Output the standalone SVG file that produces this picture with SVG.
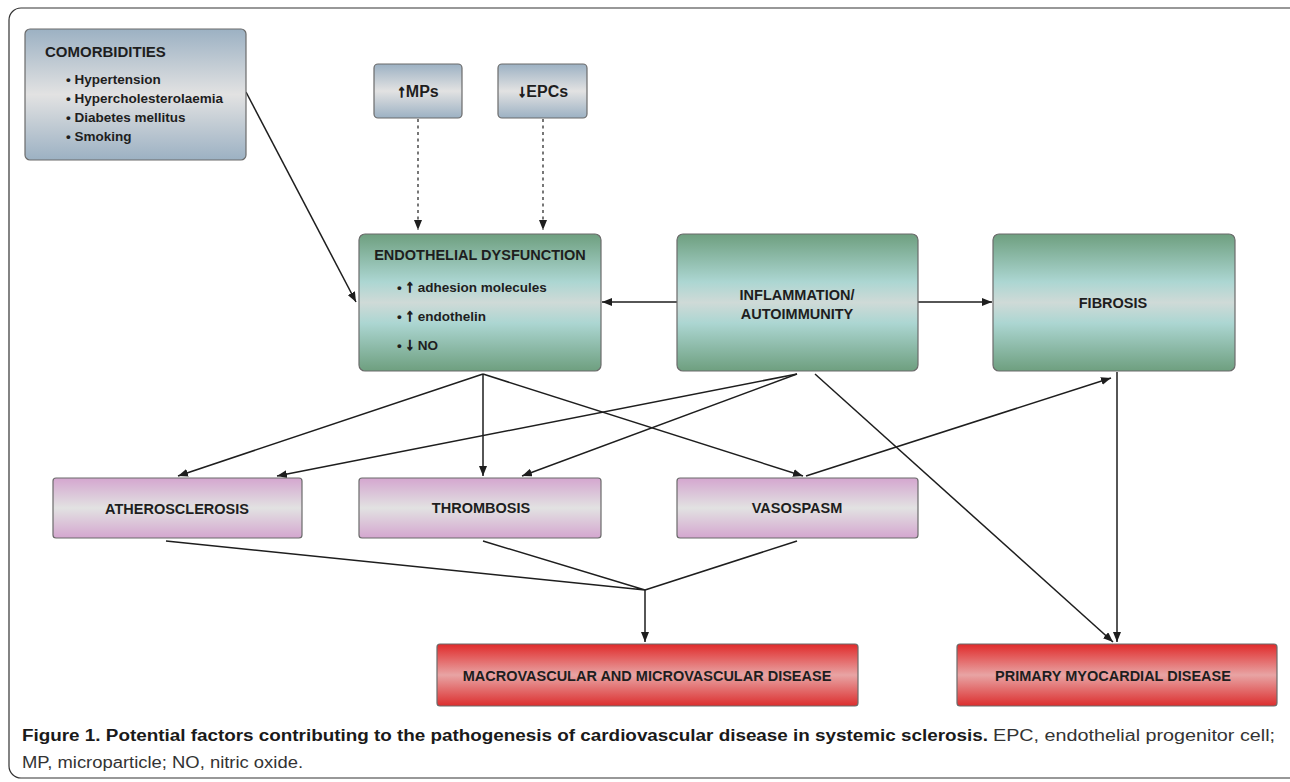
<svg xmlns="http://www.w3.org/2000/svg" width="1290" height="782" viewBox="0 0 1290 782">
<defs>
<linearGradient id="gBlue" x1="0" y1="0" x2="0" y2="1">
<stop offset="0" stop-color="#9cb1c3"/><stop offset="0.5" stop-color="#e2e2e2"/><stop offset="1" stop-color="#9cb1c3"/>
</linearGradient>
<linearGradient id="gGreen" x1="0" y1="0" x2="0" y2="1">
<stop offset="0" stop-color="#6e9f7f"/><stop offset="0.35" stop-color="#acd6d2"/><stop offset="0.5" stop-color="#cfdad7"/><stop offset="0.65" stop-color="#acd6d2"/><stop offset="1" stop-color="#6e9f7f"/>
</linearGradient>
<linearGradient id="gPink" x1="0" y1="0" x2="0" y2="1">
<stop offset="0" stop-color="#d4a6cf"/><stop offset="0.5" stop-color="#e2e2e2"/><stop offset="1" stop-color="#d4a6cf"/>
</linearGradient>
<linearGradient id="gRed" x1="0" y1="0" x2="0" y2="1">
<stop offset="0" stop-color="#e02a2a"/><stop offset="0.5" stop-color="#e8a4a4"/><stop offset="1" stop-color="#dc2e2e"/>
</linearGradient>
<marker id="ah" markerUnits="userSpaceOnUse" markerWidth="10" markerHeight="8" refX="10" refY="4" orient="auto">
<path d="M0,0 L10,4 L0,8 z" fill="#1e1e1e"/>
</marker>
</defs>
<style>
.box{stroke:#6b6b6b;stroke-width:1.2}
.t{font-family:"Liberation Sans",Arial,sans-serif;font-weight:bold;fill:#1e1e1e}
.c{text-anchor:middle}
.ar{stroke:#1e1e1e;stroke-width:1.1}
.ln{stroke:#1e1e1e;stroke-width:1.5;fill:none}
.arr{marker-end:url(#ah)}
.dot{stroke:#555;stroke-width:1.6;stroke-dasharray:3,3.5;fill:none}
.cap{font-family:"Liberation Sans",Arial,sans-serif;font-size:16px}
</style>
<rect x="9" y="8" width="1300" height="770" rx="12" fill="none" stroke="#333" stroke-width="1.2"/>

<g id="connectors">
<line class="dot arr" x1="418" y1="119" x2="418" y2="230"/>
<line class="dot arr" x1="543" y1="119" x2="543" y2="230"/>
<line class="ln arr" x1="246" y1="92" x2="356" y2="302"/>
<line class="ln arr" x1="677" y1="302" x2="602" y2="302"/>
<line class="ln arr" x1="918" y1="302" x2="992" y2="302"/>
<line class="ln arr" x1="483" y1="374" x2="178" y2="476"/>
<line class="ln arr" x1="483" y1="374" x2="483" y2="476"/>
<line class="ln arr" x1="483" y1="374" x2="803" y2="476"/>
<line class="ln arr" x1="797" y1="374" x2="277" y2="476"/>
<line class="ln arr" x1="797" y1="374" x2="522" y2="476"/>
<line class="ln arr" x1="815" y1="374" x2="1113" y2="642"/>
<line class="ln arr" x1="806" y1="476" x2="1111" y2="378"/>
<line class="ln arr" x1="1117" y1="372" x2="1117" y2="642"/>
<polyline class="ln" points="166,541 645,590 483,541"/>
<line class="ln" x1="797" y1="541" x2="645" y2="590"/>
<line class="ln arr" x1="645" y1="590" x2="645" y2="642"/>
</g>

<g id="comorbidities">
<rect class="box" x="25" y="29" width="221" height="131" rx="5" fill="url(#gBlue)"/>
<text class="t" x="45" y="57" font-size="15">COMORBIDITIES</text>
<text class="t" x="66" y="84" font-size="13.5">• Hypertension</text>
<text class="t" x="66" y="103" font-size="13.5">• Hypercholesterolaemia</text>
<text class="t" x="66" y="122" font-size="13.5">• Diabetes mellitus</text>
<text class="t" x="66" y="141" font-size="13.5">• Smoking</text>
</g>

<g id="mps">
<rect class="box" x="374" y="64" width="88" height="54" rx="4" fill="url(#gBlue)"/>
<text class="t c" x="418" y="97" font-size="16"><tspan class="ar" font-size="17">↑</tspan>MPs</text>
</g>

<g id="epcs">
<rect class="box" x="498" y="64" width="89" height="54" rx="4" fill="url(#gBlue)"/>
<text class="t c" x="543" y="97" font-size="16"><tspan class="ar" font-size="17">↓</tspan>EPCs</text>
</g>

<g id="endothelial">
<rect class="box" x="359" y="234" width="242" height="137" rx="6" fill="url(#gGreen)"/>
<text class="t c" x="480" y="260" font-size="14.5">ENDOTHELIAL DYSFUNCTION</text>
<text class="t" x="397" y="292" font-size="13.5">• <tspan class="ar" font-size="17">↑</tspan> adhesion molecules</text>
<text class="t" x="397" y="321" font-size="13.5">• <tspan class="ar" font-size="17">↑</tspan> endothelin</text>
<text class="t" x="397" y="350" font-size="13.5">• <tspan class="ar" font-size="17">↓</tspan> NO</text>
</g>

<g id="inflammation">
<rect class="box" x="677" y="234" width="241" height="137" rx="6" fill="url(#gGreen)"/>
<text class="t c" x="797" y="300" font-size="14.5">INFLAMMATION/</text>
<text class="t c" x="797" y="319" font-size="14.5">AUTOIMMUNITY</text>
</g>

<g id="fibrosis">
<rect class="box" x="993" y="234" width="242" height="137" rx="6" fill="url(#gGreen)"/>
<text class="t c" x="1113" y="308" font-size="14.5">FIBROSIS</text>
</g>

<g id="atherosclerosis">
<rect class="box" x="53" y="478" width="249" height="60" rx="3" fill="url(#gPink)"/>
<text class="t c" x="177" y="514" font-size="14.5">ATHEROSCLEROSIS</text>
</g>

<g id="thrombosis">
<rect class="box" x="359" y="478" width="242" height="60" rx="3" fill="url(#gPink)"/>
<text class="t c" x="481" y="513" font-size="14.5">THROMBOSIS</text>
</g>

<g id="vasospasm">
<rect class="box" x="677" y="478" width="241" height="60" rx="3" fill="url(#gPink)"/>
<text class="t c" x="797" y="513" font-size="14.5">VASOSPASM</text>
</g>

<g id="macrovascular">
<rect class="box" x="437" y="644" width="421" height="62" rx="3" fill="url(#gRed)"/>
<text class="t c" x="647" y="681" font-size="14.5">MACROVASCULAR AND MICROVASCULAR DISEASE</text>
</g>

<g id="myocardial">
<rect class="box" x="957" y="644" width="320" height="62" rx="3" fill="url(#gRed)"/>
<text class="t c" x="1113" y="681" font-size="14.5">PRIMARY MYOCARDIAL DISEASE</text>
</g>

<g id="caption">
<text class="cap" x="22" y="741" font-weight="bold" fill="#1a1a1a" textLength="966" lengthAdjust="spacingAndGlyphs">Figure 1. Potential factors contributing to the pathogenesis of cardiovascular disease in systemic sclerosis.</text>
<text class="cap" x="993" y="741" fill="#333" textLength="282" lengthAdjust="spacingAndGlyphs">EPC, endothelial progenitor cell;</text>
<text class="cap" x="22" y="768" fill="#333" textLength="281" lengthAdjust="spacingAndGlyphs">MP, microparticle; NO, nitric oxide.</text>
</g>
</svg>
